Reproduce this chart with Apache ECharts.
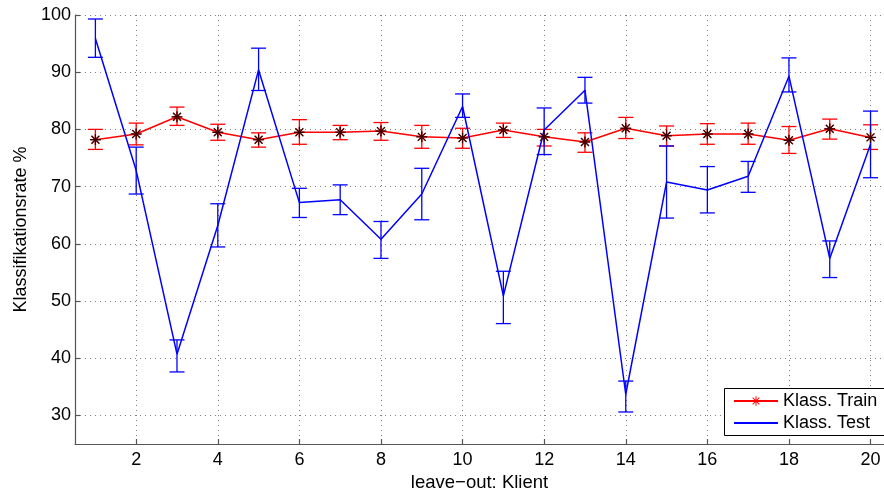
<!DOCTYPE html>
<html>
<head>
<meta charset="utf-8">
<script src="https://cdn.jsdelivr.net/npm/echarts@6/dist/echarts.min.js"></script>
<style>html,body{margin:0;padding:0;background:#fff;}#c{width:884px;height:491px;}</style>
</head>
<body>
<div id="c"></div>
<script>
var klient = [1,2,3,4,5,6,7,8,9,10,11,12,13,14,15,16,17,18,19,20];
var xTicks = [2,4,6,8,10,12,14,16,18,20];
var yTicks = [30,40,50,60,70,80,90,100];
var trainMean = [78.2,79.2,82.2,79.5,78.2,79.5,79.5,79.7,78.7,78.5,79.9,78.7,77.8,80.2,78.9,79.2,79.2,78.1,80.1,78.6];
var trainLow  = [76.5,77.3,80.7,78.1,76.9,77.4,78.2,78.1,76.7,76.7,78.6,77.1,76.0,78.4,77.1,77.4,77.4,75.8,78.3,76.5];
var trainHigh = [80.0,81.1,83.9,80.9,79.4,81.7,80.7,81.2,80.7,80.2,81.1,80.0,79.4,82.1,80.6,81.0,81.1,80.5,81.8,80.8];
var testMean  = [95.9,72.8,40.7,63.2,90.4,67.2,67.7,60.8,68.7,84.0,50.9,79.9,86.85,33.7,70.8,69.4,71.8,89.3,57.45,77.4];
var testLow   = [92.6,68.7,37.6,59.45,86.8,64.6,65.1,57.45,64.2,82.1,46.05,75.6,84.6,30.6,64.5,65.4,69.0,86.55,54.1,71.55];
var testHigh  = [99.3,76.9,43.2,67.0,94.2,69.7,70.3,63.9,73.2,86.2,55.2,83.75,89.1,36.0,77.1,73.5,74.4,92.5,60.5,83.2];

var FONT = "'Liberation Sans', Arial, sans-serif";
var AX = '#555';
var asterisk = 'path://M-1,-10L1,-10L1,10L-1,10Z M-10,-1L10,-1L10,1L-10,1Z M-7.7,-6.3L-6.3,-7.7L7.7,6.3L6.3,7.7Z M6.3,-7.7L7.7,-6.3L-6.3,7.7L-7.7,6.3Z';

function zip2(a, b) { return a.map(function (v, i) { return [v, b[i]]; }); }
function zip3(a, b, c) { return a.map(function (v, i) { return [v, b[i], c[i]]; }); }

function errRender(color) {
  return function (params, api) {
    var x = api.value(0);
    var lo = api.coord([x, api.value(1)]);
    var hi = api.coord([x, api.value(2)]);
    var w = 7.5;
    var st = { stroke: color, lineWidth: 1.3 };
    return { type: 'group', children: [
      { type: 'line', shape: { x1: lo[0], y1: lo[1], x2: hi[0], y2: hi[1] }, style: st },
      { type: 'line', shape: { x1: hi[0] - w, y1: hi[1], x2: hi[0] + w, y2: hi[1] }, style: st },
      { type: 'line', shape: { x1: lo[0] - w, y1: lo[1], x2: lo[0] + w, y2: lo[1] }, style: st }
    ]};
  };
}

function starRender(params, api) {
  var p = api.coord([api.value(0), api.value(1)]);
  var r = 5.5, d = 4;
  var st = { stroke: '#3a0000', lineWidth: 1.3 };
  return { type: 'group', children: [
    { type: 'line', shape: { x1: p[0] - r, y1: p[1], x2: p[0] + r, y2: p[1] }, style: st },
    { type: 'line', shape: { x1: p[0], y1: p[1] - r, x2: p[0], y2: p[1] + r }, style: st },
    { type: 'line', shape: { x1: p[0] - d, y1: p[1] - d, x2: p[0] + d, y2: p[1] + d }, style: st },
    { type: 'line', shape: { x1: p[0] - d, y1: p[1] + d, x2: p[0] + d, y2: p[1] - d }, style: st }
  ]};
}

var chart = echarts.init(document.getElementById('c'), null, { renderer: 'canvas' });
chart.setOption({
  animation: false,
  backgroundColor: '#fff',
  textStyle: { fontFamily: FONT },
  grid: { left: 75, top: 15, bottom: 47, right: 0, containLabel: false, outerBoundsMode: 'none' },
  graphic: [
    { type: 'rect', left: 724, top: 388, z: 50, silent: true,
      shape: { width: 175, height: 47 },
      style: { fill: '#fff', stroke: '#000', lineWidth: 1 } }
  ],
  xAxis: {
    type: 'value', min: 0.5, max: 20.33,
    name: 'leave\u2212out: Klient', nameLocation: 'middle', nameGap: 26,
    nameTextStyle: { fontSize: 18.5, color: '#000', fontFamily: FONT },
    axisLine: { show: true, onZero: false, lineStyle: { color: AX, width: 1.2 } },
    axisTick: { show: true, inside: true, length: 5, customValues: xTicks, lineStyle: { color: AX, width: 1.2 } },
    axisLabel: { customValues: xTicks, fontSize: 18, color: '#000', margin: 7, fontFamily: FONT },
    splitLine: { show: true, lineStyle: { color: '#808080', type: [1, 4], width: 1 } }
  },
  yAxis: {
    type: 'value', min: 25, max: 100,
    name: 'Klassifikationsrate %', nameLocation: 'middle', nameGap: 41,
    nameTextStyle: { fontSize: 18, color: '#000', fontFamily: FONT },
    axisLine: { show: true, onZero: false, lineStyle: { color: AX, width: 1.2 } },
    axisTick: { show: true, inside: true, length: 5, customValues: yTicks, lineStyle: { color: AX, width: 1.2 } },
    axisLabel: { customValues: yTicks, fontSize: 18, color: '#000', margin: 4, fontFamily: FONT },
    splitLine: { show: true, lineStyle: { color: '#808080', type: [1, 4], width: 1 } }
  },
  legend: {
    orient: 'vertical', left: 724, top: 388, z: 60,
    padding: [4, 8, 3, 9], itemGap: 4, itemWidth: 44, itemHeight: 12,
    backgroundColor: 'rgba(0,0,0,0)', borderWidth: 0,
    textStyle: { fontSize: 18, color: '#000', fontFamily: FONT },
    data: [
      { name: 'Klass. Train' },
      { name: 'Klass. Test', itemStyle: { color: 'rgba(0,0,0,0)', borderWidth: 0, opacity: 0 } }
    ]
  },
  series: [
    { name: 'Klass. Train', type: 'line', data: zip2(klient, trainMean),
      symbol: asterisk, symbolSize: 10, showSymbol: true,
      itemStyle: { color: '#ff0000' }, lineStyle: { color: '#ff0000', width: 1.5 }, z: 2 },
    { name: 'trainErr', type: 'custom', data: zip3(klient, trainLow, trainHigh),
      renderItem: errRender('#ff0000'), z: 2, silent: true },
    { name: 'Klass. Test', type: 'line', data: zip2(klient, testMean),
      symbol: 'circle', showSymbol: false,
      itemStyle: { color: '#0000ff' }, lineStyle: { color: '#0000ff', width: 1.5 }, z: 3 },
    { name: 'testErr', type: 'custom', data: zip3(klient, testLow, testHigh),
      renderItem: errRender('#0000ff'), z: 3, silent: true },
    { name: 'trainStar', type: 'custom', data: zip2(klient, trainMean),
      renderItem: starRender, z: 4, silent: true }
  ]
});
</script>
</body>
</html>
